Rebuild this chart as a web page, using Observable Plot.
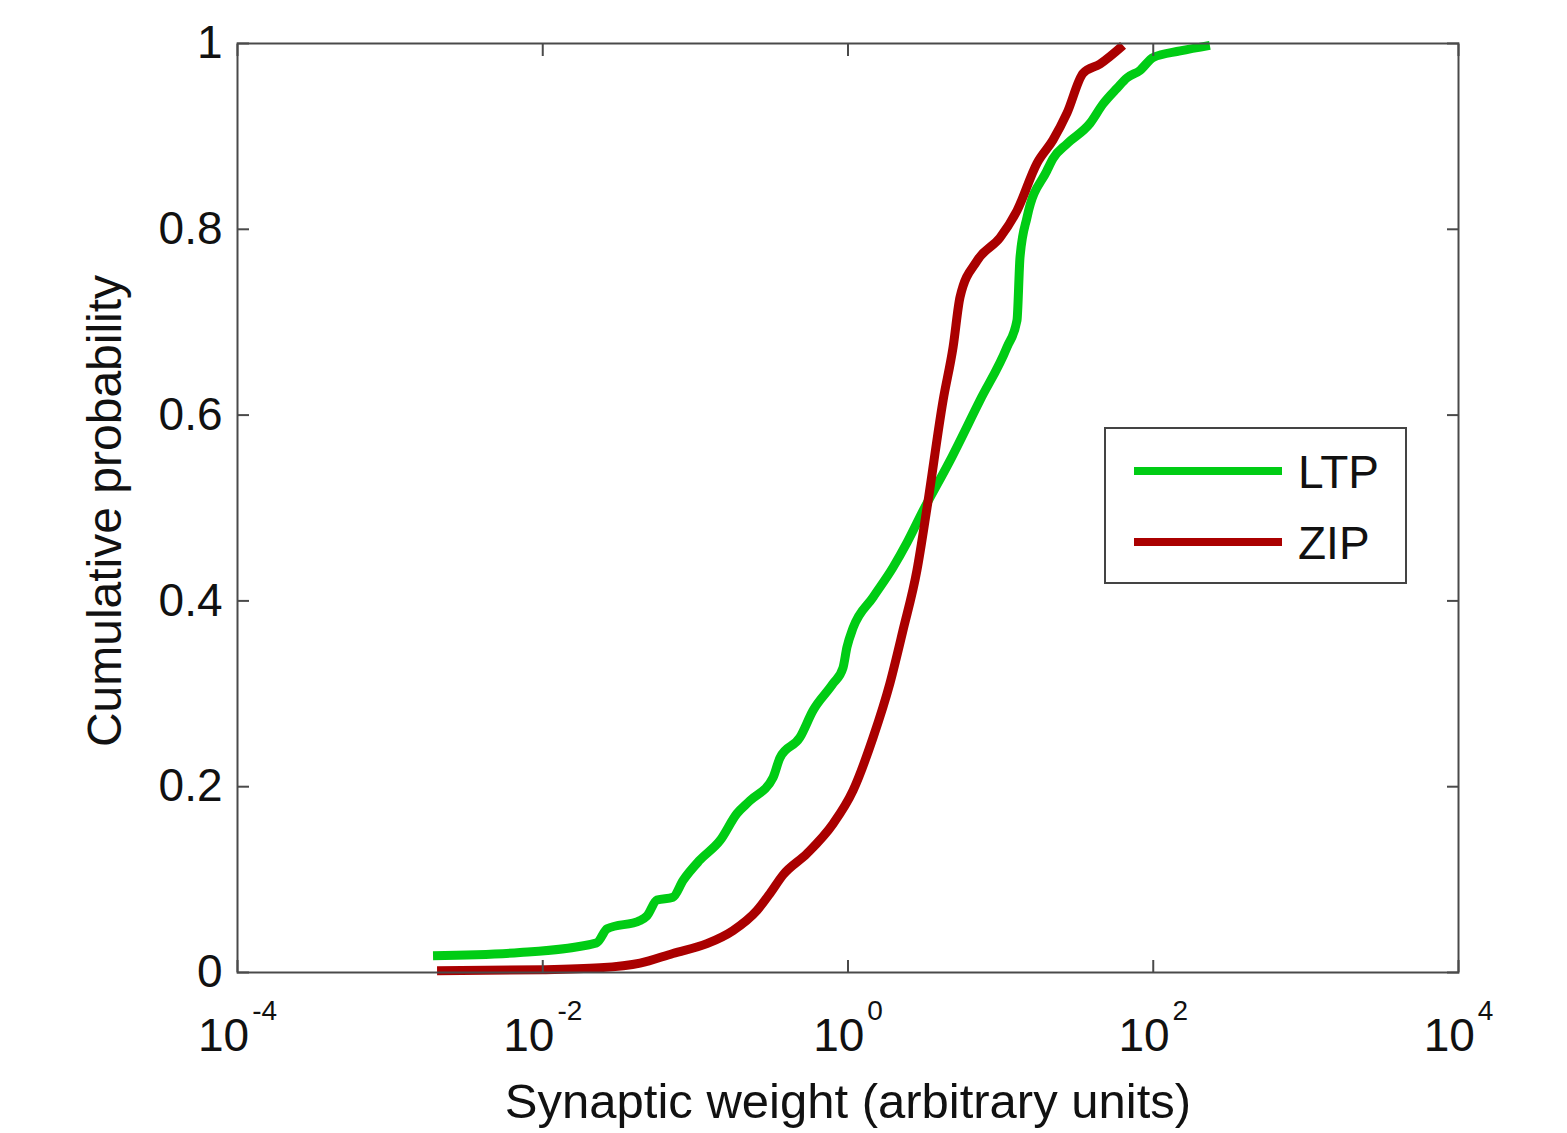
<!DOCTYPE html>
<html>
<head>
<meta charset="utf-8">
<script src="https://cdn.jsdelivr.net/npm/d3@7"></script>
<script src="https://cdn.jsdelivr.net/npm/@observablehq/plot@0.6"></script>
<style>
  html, body { margin: 0; padding: 0; background: #fff; }
  #wrap { position: relative; width: 1567px; height: 1133px; font-family: "Liberation Sans", Arial, Helvetica, sans-serif; }
  #legend { position: absolute; left: 1104px; top: 427px; width: 299px; height: 153px; border: 2px solid #444; background: #fff; box-sizing: content-box; }
  .lrow { position: absolute; left: 28px; height: 8px; width: 148px; }
  .ltxt { position: absolute; left: 192px; font-size: 46px; line-height: 46px; color: #111; }
</style>
</head>
<body>
<div id="wrap"></div>
<script>
// LTP (green) cumulative distribution
const ltpWeight = [0.00191, 0.0071, 0.0226, 0.0264, 0.0434, 0.0482, 0.056, 0.0713, 0.0830, 0.107, 0.145, 0.187, 0.228, 0.323, 0.358, 0.484, 0.590, 0.798, 0.927, 0.984, 1.08, 1.46, 1.97, 2.44, 3.10, 4.66, 7.33, 11.0, 12.8, 13.4, 14.9, 20.1, 22.0, 27.2, 38.5, 46.9, 58.0, 67.3, 81.8, 99.8, 150, 235];
const ltpProb   = [0.018, 0.0215, 0.032, 0.047, 0.056, 0.061, 0.078, 0.081, 0.099, 0.121, 0.142, 0.171, 0.185, 0.210, 0.231, 0.253, 0.282, 0.311, 0.328, 0.350, 0.371, 0.404, 0.436, 0.463, 0.497, 0.551, 0.616, 0.673, 0.702, 0.770, 0.813, 0.863, 0.876, 0.892, 0.914, 0.935, 0.952, 0.963, 0.971, 0.985, 0.992, 0.998];
// ZIP (red) cumulative distribution
const zipWeight = [0.00203, 0.0100, 0.0237, 0.0434, 0.0713, 0.119, 0.176, 0.254, 0.308, 0.375, 0.538, 0.798, 1.08, 1.46, 1.88, 2.29, 2.83, 3.30, 4.20, 4.88, 5.42, 7.00, 9.91, 12.8, 17.3, 22.0, 27.2, 34.7, 44.8, 63.4];
const zipProb   = [0.002, 0.003, 0.005, 0.010, 0.0205, 0.031, 0.045, 0.067, 0.085, 0.105, 0.128, 0.160, 0.196, 0.253, 0.311, 0.368, 0.433, 0.501, 0.616, 0.673, 0.727, 0.766, 0.791, 0.820, 0.871, 0.896, 0.925, 0.968, 0.978, 0.998];

const seriesNames = ["LTP", "ZIP"];
const seriesColors = ["#00cc14", "#aa0000"];
const xTicks = [1e-4, 1e-2, 1, 1e2, 1e4];
const yTicks = [0, 0.2, 0.4, 0.6, 0.8, 1];
const yTickLabels = ["0", "0.2", "0.4", "0.6", "0.8", "1"];
const xLabel = "Synaptic weight (arbitrary units)";
const yLabel = "Cumulative probability";

const ltp = ltpWeight.map((w, i) => ({w, p: ltpProb[i], s: "LTP"}));
const zip = zipWeight.map((w, i) => ({w, p: zipProb[i], s: "ZIP"}));

const W = 1567, H = 1133;
const mL = 237, mR = 109, mT = 43, mB = 161;
const axisColor = "#4a4a4a";

const plot = Plot.plot({
  width: W, height: H,
  marginLeft: mL, marginRight: mR, marginTop: mT, marginBottom: mB,
  style: {fontFamily: '"Liberation Sans", Arial, Helvetica, sans-serif', fontSize: "46px", color: "#111", background: "#fff"},
  x: {type: "log", domain: [1e-4, 1e4]},
  y: {domain: [0, 1]},
  marks: [
    Plot.line(ltp, {x: "w", y: "p", stroke: seriesColors[0], strokeWidth: 9, strokeLinejoin: "round", strokeLinecap: "butt", curve: "monotone-x"}),
    Plot.line(zip, {x: "w", y: "p", stroke: seriesColors[1], strokeWidth: 9, strokeLinejoin: "round", strokeLinecap: "butt", curve: "monotone-x"}),
    Plot.frame({stroke: axisColor, strokeWidth: 2}),
    // inward ticks
    Plot.axisX({anchor: "bottom", ticks: xTicks, tickSize: -12, stroke: axisColor, strokeWidth: 2, tickFormat: () => "", label: null}),
    Plot.axisX({anchor: "top", ticks: xTicks, tickSize: -12, stroke: axisColor, strokeWidth: 2, tickFormat: () => "", label: null}),
    Plot.axisY({anchor: "left", ticks: yTicks, tickSize: -12, stroke: axisColor, strokeWidth: 2, tickFormat: () => "", label: null}),
    Plot.axisY({anchor: "right", ticks: yTicks, tickSize: -12, stroke: axisColor, strokeWidth: 2, tickFormat: () => "", label: null}),
    // labels
    Plot.axisX({anchor: "bottom", ticks: xTicks, tickSize: 0, tickPadding: 46, tickFormat: d => String(Math.round(Math.log10(d))), label: null, fill: "#111", fontSize: 46}),
    Plot.axisY({anchor: "left", ticks: yTicks, tickSize: 0, tickPadding: 15, tickFormat: (d, i) => yTickLabels[i], label: null, fill: "#111", fontSize: 46})
  ]
});

// turn exponents into "10^n" with superscript (only labelled ticks)
d3.select(plot).selectAll('g[aria-label="x-axis tick label"] text').each(function() {
  const t = d3.select(this);
  const e = t.text();
  if (e === "") { t.remove(); return; }
  t.text(null);
  t.append("tspan").text("10");
  t.append("tspan").attr("dx", "3").attr("dy", "-31").attr("font-size", "28px").text(e);
});
d3.select(plot).selectAll('g[aria-label="y-axis tick label"] text').each(function() {
  if (d3.select(this).text() === "") d3.select(this).remove();
});

const svg = d3.select(plot);
svg.append("text")
  .attr("x", 848).attr("y", 1118)
  .attr("text-anchor", "middle")
  .attr("font-size", 49).attr("fill", "#111")
  .text(xLabel);
svg.append("text")
  .attr("transform", "translate(121,511) rotate(-90)")
  .attr("text-anchor", "middle")
  .attr("font-size", 48).attr("fill", "#111")
  .text(yLabel);

const wrap = document.getElementById("wrap");
wrap.appendChild(plot);

// legend
const legend = document.createElement("div");
legend.id = "legend";
seriesNames.forEach((name, i) => {
  const line = document.createElement("div");
  line.className = "lrow";
  line.style.top = (i === 0 ? 38 : 109) + "px";
  line.style.background = seriesColors[i];
  legend.appendChild(line);
  const txt = document.createElement("div");
  txt.className = "ltxt";
  txt.style.top = (i === 0 ? 20 : 91) + "px";
  txt.textContent = name;
  legend.appendChild(txt);
});
wrap.appendChild(legend);
</script>
</body>
</html>
